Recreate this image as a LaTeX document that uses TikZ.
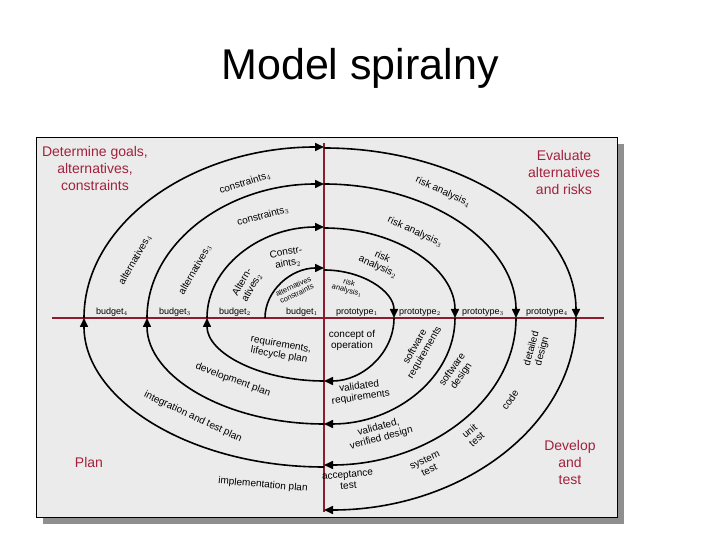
\documentclass[tikz,border=0pt]{standalone}
\usepackage{fontspec}
\setmainfont{Liberation Sans}
\usetikzlibrary{arrows.meta}
\definecolor{axisred}{HTML}{8E1B30}
\definecolor{headred}{HTML}{A3213C}
\definecolor{panelgray}{HTML}{EBEBEB}
\definecolor{shadowgray}{HTML}{8F8F8F}
\begin{document}
\begin{tikzpicture}[x=1pt,y=1pt,
  spiral/.style={line width=1.6pt, -{Triangle[length=9pt,width=8pt]}},
  lbl/.style={font=\fontsize{10}{11}\selectfont, align=center, inner sep=0pt},
  tiny/.style={font=\fontsize{7.5}{8}\selectfont, align=center, inner sep=0pt},
  axislbl/.style={font=\fontsize{9}{10}\selectfont, inner sep=0pt, anchor=base},
  head/.style={font=\fontsize{14}{17}\selectfont, text=headred, align=center}]
\useasboundingbox (-324,-222) rectangle (396,318);
\fill[white] (-324,-222) rectangle (396,318);
\node[font=\fontsize{43}{50}\selectfont] (title) at (36,250) {Model spiralny};
\fill[shadowgray] (-281,174) rectangle (300,-206);
\draw[fill=panelgray, line width=0.8pt] (-288,181) rectangle (293,-199);
\draw[axisred, line width=1.8pt] (0,175) -- (0,-194);
\draw[axisred, line width=1.8pt] (-272,0) -- (280,0);

\draw[spiral] (-59,0) arc[start angle=180, end angle=90, x radius=59, y radius=50];
\draw[spiral] (-117,0) arc[start angle=180, end angle=90, x radius=117, y radius=91];
\draw[spiral] (-177,0) arc[start angle=180, end angle=90, x radius=177, y radius=134];
\draw[spiral] (-240,0) arc[start angle=180, end angle=90, x radius=240, y radius=171];

\draw[spiral] (0,48) arc[start angle=90, end angle=0, x radius=70, y radius=48];
\draw[spiral] (0,90) arc[start angle=90, end angle=0, x radius=131, y radius=90];
\draw[spiral] (0,134) arc[start angle=90, end angle=0, x radius=192, y radius=134];
\draw[spiral] (0,170) arc[start angle=90, end angle=0, x radius=252, y radius=170];

\draw[spiral] (70,0) arc[start angle=0, end angle=-90, x radius=70, y radius=63];
\draw[spiral] (131,0) arc[start angle=0, end angle=-90, x radius=131, y radius=106];
\draw[spiral] (192,0) arc[start angle=0, end angle=-90, x radius=192, y radius=147];
\draw[spiral] (252,0) arc[start angle=0, end angle=-90, x radius=252, y radius=192];

\draw[spiral] (0,-63) arc[start angle=-90, end angle=-180, x radius=117, y radius=63];
\draw[spiral] (0,-106) arc[start angle=-90, end angle=-180, x radius=177, y radius=106];
\draw[spiral] (0,-149) arc[start angle=-90, end angle=-180, x radius=240, y radius=149];

\node[head] (goals) at (-229,149) {Determine goals,\\alternatives,\\constraints};
\node[head] (evaluate) at (240,145) {Evaluate\\alternatives\\and risks};
\node[head] (plan) at (-235,-144) {Plan};
\node[head] (develop) at (246,-144) {Develop\\and\\test};

\node[axislbl] (bud4) at (-212,3) {budget$_4$};
\node[axislbl] (bud3) at (-149,3) {budget$_3$};
\node[axislbl] (bud2) at (-89,3) {budget$_2$};
\node[axislbl] (bud1) at (-22,3) {budget$_1$};
\node[axislbl] (proto1) at (33,3) {prototype$_1$};
\node[axislbl] (proto2) at (96,3) {prototype$_2$};
\node[axislbl] (proto3) at (159,3) {prototype$_3$};
\node[axislbl] (proto4) at (223,3) {prototype$_4$};

\node[lbl, rotate=17] (con4) at (-79,135) {constraints$_4$};
\node[lbl, rotate=15] (con3) at (-61,102) {constraints$_3$};
\node[lbl, rotate=10] (con2) at (-37,60) {Constr-\\aints$_2$};
\node[lbl, rotate=60] (alt4) at (-189,58) {alternatives$_4$};
\node[lbl, rotate=60] (alt3) at (-129,48) {alternatives$_3$};
\node[lbl, rotate=60] (alt2) at (-77,33) {Altern-\\atives$_2$};
\node[tiny, rotate=25] (alt1) at (-29,28) {alternatives\\constraints};

\node[lbl, rotate=-25] (risk4) at (119,126) {risk analysis$_4$};
\node[lbl, rotate=-25] (risk3) at (91,86) {risk analysis$_3$};
\node[lbl, rotate=-25] (risk2) at (56,56) {risk\\analysis$_2$};
\node[tiny, rotate=-15] (risk1) at (24,31) {risk\\analysis$_1$};

\node[lbl] (concept) at (28,-22) {concept of\\operation};
\node[lbl, rotate=60] (softreq) at (96,-32) {software\\requirements};
\node[lbl, rotate=55] (softdes) at (133,-55) {software\\design};
\node[lbl, rotate=75] (detdes) at (213,-32) {detailed\\design};
\node[lbl, rotate=55] (code) at (186,-82) {code};
\node[lbl, rotate=8] (valreq) at (36,-74) {validated\\requirements};
\node[lbl, rotate=15] (valdes) at (56,-115) {validated,\\verified design};
\node[lbl, rotate=40] (unit) at (149,-117) {unit\\test};
\node[lbl, rotate=25] (system) at (103,-147) {system\\test};
\node[lbl, rotate=5] (accept) at (24,-162) {acceptance\\test};

\node[lbl, rotate=-10] (reqplan) at (-44,-32) {requirements,\\lifecycle plan};
\node[lbl, rotate=-20] (devplan) at (-91,-62) {development plan};
\node[lbl, rotate=-25] (intplan) at (-131,-99) {integration and test plan};
\node[lbl, rotate=-5] (implplan) at (-61,-167) {implementation plan};
\end{tikzpicture}
\end{document}
